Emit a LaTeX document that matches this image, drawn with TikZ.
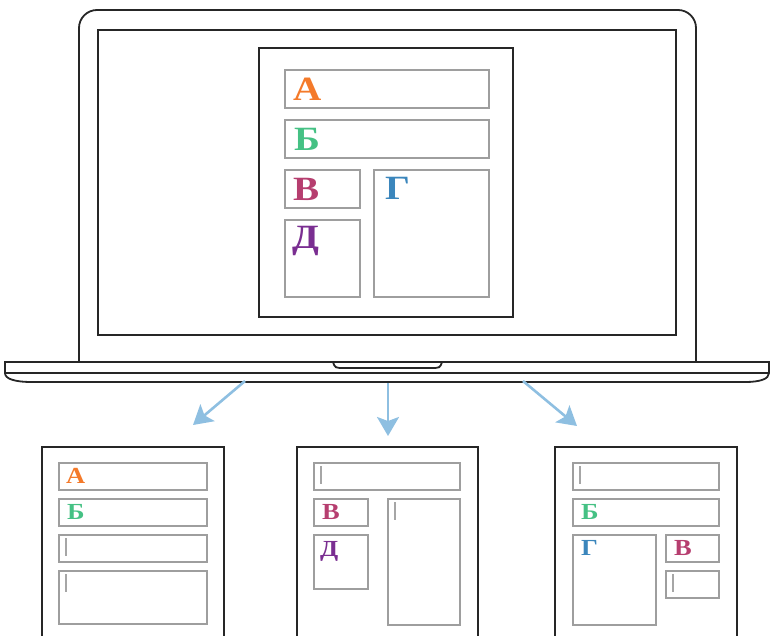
\documentclass[tikz,border=0pt]{standalone}
\usepackage{fontspec}
\newfontfamily\lblfont[FakeStretch=1.15]{Liberation Serif}
\usetikzlibrary{arrows.meta}
\definecolor{colA}{HTML}{F47A2A}
\definecolor{colB}{HTML}{45C184}
\definecolor{colV}{HTML}{B63E6F}
\definecolor{colG}{HTML}{3B86BC}
\definecolor{colD}{HTML}{7A2E91}
\definecolor{arrowblue}{HTML}{8EBFE1}

\begin{document}
\begin{tikzpicture}[x=1pt, y=-1pt]
    \tikzset{frame/.style={draw=black!85, line width=1.8pt},
             slot/.style={draw=black!38, line width=1.5pt, anchor=north west, inner sep=0pt},
             card/.style={draw=black!85, line width=1.8pt, anchor=north west, inner sep=0pt,
                          minimum width=182pt, minimum height=220pt},
             biglet/.style={anchor=base west, inner sep=0pt, font=\lblfont\bfseries\fontsize{34}{34}\selectfont},
             smalllet/.style={anchor=base west, inner sep=0pt, font=\lblfont\bfseries\fontsize{23}{23}\selectfont},
             cursor/.style={draw=black!35, line width=1.3pt},
             flow/.style={draw=arrowblue, line width=2.6pt, -{Stealth[length=19pt, width=22pt, inset=4pt]}}}
    \useasboundingbox (0,0) rectangle (770,635);
    \clip (0,0) rectangle (770,635);

    % laptop
    \draw[frame, rounded corners=18pt] (79,362) -- (79,10) -- (696,10) -- (696,362);
    \draw[frame] (98,30) rectangle (676,335);
    \draw[frame] (259,48) rectangle (513,317);
    \draw[frame] (5,362) -- (769,362) -- (769,373) .. controls (769,379) and (760,382) .. (745,382)
        -- (32,382) .. controls (15,382) and (5,379) .. (5,373) -- cycle;
    \draw[frame] (5,373) -- (769,373);
    \draw[frame] (333,362) .. controls (335,368) .. (345,368) -- (430,368) .. controls (440,368) .. (442,362);

    \node[slot, minimum width=204pt, minimum height=38pt] (sA) at (284,69) {};
    \node[slot, minimum width=204pt, minimum height=38pt] (sB) at (284,119) {};
    \node[slot, minimum width=75pt, minimum height=38pt] (sV) at (284,169) {};
    \node[slot, minimum width=115pt, minimum height=127pt] (sG) at (373,169) {};
    \node[slot, minimum width=75pt, minimum height=77pt] (sD) at (284,219) {};
    \node[biglet, text=colA] (tA) at ([shift={(9pt,-31pt)}]sA.north west) {А};
    \node[biglet, text=colB] (tB) at ([shift={(10pt,-31pt)}]sB.north west) {Б};
    \node[biglet, text=colV] (tV) at ([shift={(9pt,-31pt)}]sV.north west) {В};
    \node[biglet, text=colG] (tG) at ([shift={(12pt,-30pt)}]sG.north west) {Г};
    \node[biglet, text=colD] (tD) at ([shift={(8pt,-29pt)}]sD.north west) {Д};

    % cards
    \node[card] (card1) at (41,446) {};
    \node[card, minimum width=181pt] (card2) at (296,446) {};
    \node[card] (card3) at (554,446) {};

    \node[slot, minimum width=148pt, minimum height=27pt] (c1a) at (58,462) {};
    \node[slot, minimum width=148pt, minimum height=27pt] (c1b) at (58,498) {};
    \node[slot, minimum width=148pt, minimum height=27pt] (c1c) at (58,534) {};
    \node[slot, minimum width=148pt, minimum height=53pt] (c1d) at (58,570) {};
    \node[smalllet, text=colA] (u1a) at ([shift={(8pt,-21pt)}]c1a.north west) {А};
    \node[smalllet, text=colB] (u1b) at ([shift={(9pt,-21pt)}]c1b.north west) {Б};

    \node[slot, minimum width=146pt, minimum height=27pt] (c2a) at (313,462) {};
    \node[slot, minimum width=54pt, minimum height=27pt] (c2b) at (313,498) {};
    \node[slot, minimum width=54pt, minimum height=54pt] (c2d) at (313,534) {};
    \node[slot, minimum width=72pt, minimum height=126pt] (c2g) at (387,498) {};
    \node[smalllet, text=colV] (u2b) at ([shift={(9pt,-21pt)}]c2b.north west) {В};
    \node[smalllet, text=colD] (u2d) at ([shift={(7pt,-22pt)}]c2d.north west) {Д};

    \node[slot, minimum width=146pt, minimum height=27pt] (c3a) at (572,462) {};
    \node[slot, minimum width=146pt, minimum height=27pt] (c3b) at (572,498) {};
    \node[slot, minimum width=83pt, minimum height=90pt] (c3g) at (572,534) {};
    \node[slot, minimum width=53pt, minimum height=27pt] (c3v) at (665,534) {};
    \node[slot, minimum width=53pt, minimum height=27pt] (c3e) at (665,570) {};
    \node[smalllet, text=colB] (u3b) at ([shift={(9pt,-21pt)}]c3b.north west) {Б};
    \node[smalllet, text=colG] (u3g) at ([shift={(9pt,-21pt)}]c3g.north west) {Г};
    \node[smalllet, text=colV] (u3v) at ([shift={(9pt,-21pt)}]c3v.north west) {В};

    \foreach \s in {c1c, c1d, c2a, c2g, c3a, c3e}
        \draw[cursor] ([shift={(8pt,-4pt)}]\s.north west) -- ++(0,18);

    % arrows
    \coordinate (s1) at (245,381);
    \coordinate (e1) at (193,425);
    \coordinate (s2) at (388,383);
    \coordinate (e2) at (388,436);
    \coordinate (s3) at (523,381);
    \coordinate (e3) at (577,426);
    \draw[flow] (s1) -- (e1);
    \draw[flow] (s2) -- (e2);
    \draw[flow] (s3) -- (e3);
\end{tikzpicture}
\end{document}
